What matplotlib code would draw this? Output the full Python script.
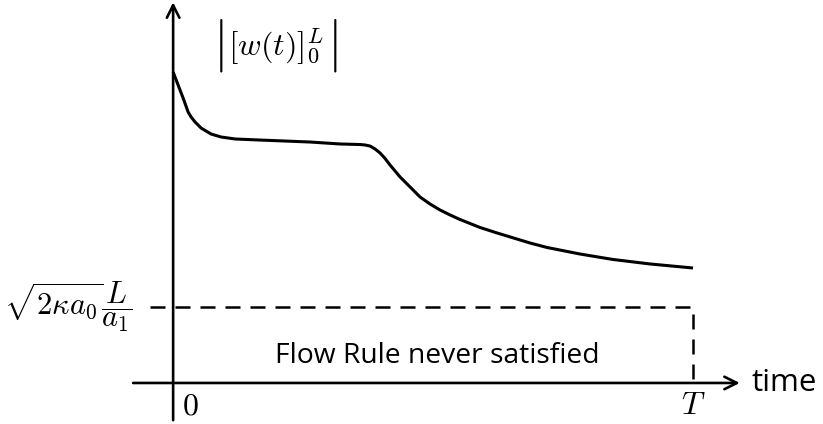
import numpy as np
import matplotlib.pyplot as plt

plt.rcParams['mathtext.fontset'] = 'cm'
plt.rcParams['font.family'] = 'Open Sans'

# time runs from 0 to T = 1, the threshold level is 1
t_curve = [0.0, 0.0096, 0.0192, 0.0288, 0.0346, 0.0423, 0.0538, 0.0731,
           0.0923, 0.1192, 0.1673, 0.2635, 0.3212, 0.3596, 0.3692, 0.3788,
           0.3885, 0.3981, 0.4077, 0.4173, 0.4365, 0.4558, 0.4750, 0.4942,
           0.5135, 0.5327, 0.5519, 0.5904, 0.6231, 0.6865, 0.7192, 0.7827,
           0.8462, 0.9173, 1.0]
w_curve = [4.092, 3.921, 3.750, 3.566, 3.500, 3.434, 3.355, 3.276,
           3.237, 3.211, 3.197, 3.171, 3.145, 3.138, 3.132, 3.118,
           3.079, 3.026, 2.954, 2.868, 2.711, 2.579, 2.447, 2.355,
           2.276, 2.211, 2.151, 2.046, 1.974, 1.842, 1.783, 1.697,
           1.625, 1.566, 1.513]
threshold = 1.0
T_end = 1.0

fig = plt.figure(figsize=(8.23, 4.24), dpi=100)
ax = fig.add_axes([0, 0, 1, 1])
ax.set_xlim(-0.333, 1.25)
ax.set_ylim(-0.54, 5.04)
ax.axis('off')

arrow = dict(arrowstyle='->,head_length=0.9,head_width=0.45', lw=1.9,
             color='black', shrinkA=0, shrinkB=0)
# axes
ax.annotate('', xy=(0, 5.01), xytext=(0, -0.49), arrowprops=arrow)
ax.annotate('', xy=(1.09, 0), xytext=(-0.077, 0), arrowprops=arrow)

# curve of the jump
ax.plot(t_curve, w_curve, color='black', lw=2.2, solid_joinstyle='round',
        solid_capstyle='butt')

# threshold and end time
ax.plot([-0.044, T_end, T_end], [threshold, threshold, 0], color='black',
        lw=1.8, ls=(0, (6, 4)))

ax.text(-0.077, threshold, r'$\sqrt{2\kappa a_0}\dfrac{L}{a_1}$', fontsize=22,
        ha='right', va='center')

# |[w(t)]_0^L| with tall outer bars
ax.text(0.0865, 4.447, r'$|$', fontsize=38, ha='center', va='center')
ax.text(0.306, 4.447, r'$|$', fontsize=38, ha='center', va='center')
ax.text(0.197, 4.43, r'$\left[w(t)\right]_0^L$', fontsize=23,
        ha='center', va='center')

ax.text(0.018, -0.08, r'$0$', fontsize=23, ha='left', va='top')
ax.text(T_end, -0.08, r'$T$', fontsize=23, ha='center', va='top')
ax.text(1.113, 0, 'time', fontsize=22.5, ha='left', va='center')
ax.text(0.508, 0.36, 'Flow Rule never satisfied', fontsize=20.3,
        ha='center', va='center')

fig.savefig('out.png', dpi=100)
